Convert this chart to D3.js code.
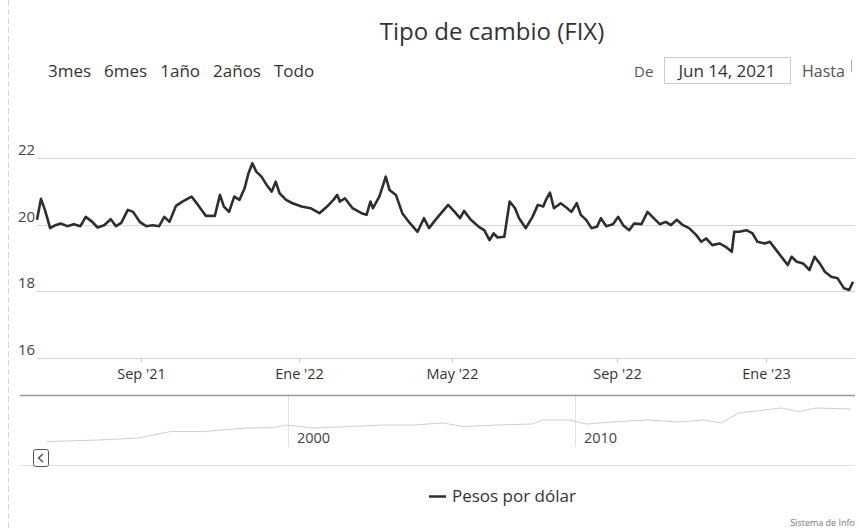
<!DOCTYPE html>
<html>
<head>
<meta charset="utf-8">
<script src="https://cdn.jsdelivr.net/npm/d3@7"></script>
<style>
  html, body { margin: 0; padding: 0; background: #fff; }
  svg { display: block; font-family: "Open Sans", "DejaVu Sans", sans-serif; }
</style>
</head>
<body>
<script>
// Data ////////////////////////////////////////////////////////////////////

const fixDates = [
  "2021-06-14","2021-06-17","2021-06-20","2021-06-24","2021-06-28","2021-07-02","2021-07-07",
  "2021-07-12","2021-07-17","2021-07-21","2021-07-26","2021-07-30","2021-08-04","2021-08-09",
  "2021-08-13","2021-08-17","2021-08-22","2021-08-26","2021-08-31","2021-09-05","2021-09-10",
  "2021-09-15","2021-09-19","2021-09-23","2021-09-28","2021-10-03","2021-10-10","2021-10-15",
  "2021-10-21","2021-10-28","2021-11-01","2021-11-04","2021-11-08","2021-11-12","2021-11-16",
  "2021-11-20","2021-11-23","2021-11-26","2021-11-29","2021-12-03","2021-12-07","2021-12-11",
  "2021-12-14","2021-12-17","2021-12-22","2021-12-27","2022-01-03","2022-01-10","2022-01-17",
  "2022-01-23","2022-01-28","2022-01-31","2022-02-02","2022-02-06","2022-02-12","2022-02-19",
  "2022-02-23","2022-02-26","2022-02-28","2022-03-05","2022-03-08","2022-03-10","2022-03-13",
  "2022-03-18","2022-03-23","2022-03-29","2022-04-04","2022-04-09","2022-04-13","2022-04-18",
  "2022-04-28","2022-05-03","2022-05-07","2022-05-10","2022-05-15","2022-05-21","2022-05-25",
  "2022-05-29","2022-06-01","2022-06-04","2022-06-09","2022-06-13","2022-06-17","2022-06-20",
  "2022-06-25","2022-06-30","2022-07-04","2022-07-08","2022-07-10","2022-07-13","2022-07-16",
  "2022-07-21","2022-07-25","2022-07-29","2022-08-02","2022-08-05","2022-08-09","2022-08-13",
  "2022-08-17","2022-08-20","2022-08-24","2022-08-29","2022-09-02","2022-09-06","2022-09-11",
  "2022-09-15","2022-09-21","2022-09-26","2022-09-30","2022-10-06","2022-10-11","2022-10-15",
  "2022-10-20","2022-10-25","2022-10-30","2022-11-05","2022-11-09","2022-11-13","2022-11-18",
  "2022-11-24","2022-11-29","2022-12-04","2022-12-06","2022-12-10","2022-12-16","2022-12-21",
  "2022-12-25","2022-12-31","2023-01-04","2023-01-09","2023-01-14","2023-01-18","2023-01-21",
  "2023-01-25","2023-01-30","2023-02-04","2023-02-08","2023-02-12","2023-02-16","2023-02-21",
  "2023-02-26","2023-03-03","2023-03-07","2023-03-10"
];

const fixValues = [
  20.14,20.77,20.44,19.89,19.98,20.03,19.95,
  20.01,19.95,20.23,20.08,19.91,19.98,20.16,
  19.95,20.05,20.44,20.38,20.08,19.95,19.98,
  19.95,20.23,20.08,20.56,20.69,20.84,20.59,
  20.26,20.26,20.89,20.54,20.38,20.84,20.74,
  21.09,21.54,21.84,21.59,21.44,21.19,20.99,
  21.29,20.94,20.74,20.64,20.54,20.49,20.34,
  20.54,20.74,20.89,20.69,20.79,20.49,20.34,
  20.29,20.69,20.49,20.84,21.19,21.44,21.04,
  20.89,20.34,20.04,19.78,20.19,19.89,20.14,
  20.59,20.38,20.19,20.41,20.14,19.93,19.83,
  19.53,19.73,19.61,19.63,20.69,20.49,20.19,
  19.89,20.23,20.59,20.54,20.74,20.96,20.49,
  20.64,20.52,20.38,20.64,20.29,20.14,19.89,
  19.93,20.19,19.95,20.01,20.23,19.98,19.83,
  20.03,20.01,20.38,20.23,20.01,20.08,19.98,
  20.14,19.98,19.89,19.68,19.48,19.58,19.38,
  19.43,19.33,19.18,19.78,19.78,19.83,19.73,
  19.48,19.43,19.48,19.23,18.98,18.78,19.03,
  18.88,18.83,18.63,19.03,18.83,18.58,18.43,
  18.38,18.08,18.03,18.28
];

const yTicks = [16, 18, 20, 22];
const xTickDates = ["2021-09-01", "2022-01-01", "2022-05-01", "2022-09-01", "2023-01-01"];
const monthsEs = ["Ene","Feb","Mar","Abr","May","Jun","Jul","Ago","Sep","Oct","Nov","Dic"];
const rangeButtons = ["3mes", "6mes", "1año", "2años", "Todo"];

// navigator: whole history, decimal year and value
const navYears = [1991.6,1993.4,1994.8,1995.3,1995.9,1997.0,1998.6,1999.5,1999.9,2000.9,
  2002.1,2003.3,2004.4,2005.4,2006.1,2007.3,2008.5,2008.9,2009.8,2010.4,2011.5,2012.5,
  2013.6,2014.5,2015.1,2015.7,2016.6,2017.2,2017.8,2018.4,2019.6];
const navValues = [2.7,3.5,4.5,6.0,7.7,7.7,9.5,9.7,11.0,9.5,
  10.2,11.0,11.0,12.0,10.2,11.0,11.5,13.5,13.5,11.5,12.7,13.5,
  12.5,13.5,12.0,17.0,18.5,19.5,17.7,19.5,19.0];
const navTicks = [2000, 2010];

// Layout //////////////////////////////////////////////////////////////////

const width = 860;
const height = 531;
const plotLeft = 37;
const plotRight = 855;
const parseDate = d3.timeParse("%Y-%m-%d");

const svg = d3
  .select("body")
  .append("svg")
  .attr("width", width)
  .attr("height", height);

// ordinal-like time axis (business days), approximated piecewise
const xScale = d3
  .scaleTime()
  .domain(["2021-06-14", ...xTickDates, "2023-03-10"].map(parseDate))
  .range([plotLeft, 141, 299, 452, 617, 766, 853]);

const yScale = d3.scaleLinear().domain([16, 22]).range([357.5, 158]);

drawFrame(svg);
drawTitle(svg);
drawRangeSelector(svg);
drawGrid(svg);
drawSeries(svg);
drawXAxis(svg);
drawNavigator(svg);
drawLegend(svg);

// Frame ///////////////////////////////////////////////////////////////////

function drawFrame(root) {
  root
    .append("line")
    .attr("x1", 8.5)
    .attr("x2", 8.5)
    .attr("y1", 0)
    .attr("y2", height)
    .attr("stroke", "#d8d8d8")
    .attr("stroke-dasharray", "6 3");
}

function drawTitle(root) {
  root
    .append("text")
    .text("Tipo de cambio (FIX)")
    .attr("x", 492)
    .attr("y", 40)
    .attr("text-anchor", "middle")
    .attr("font-size", 24)
    .attr("fill", "#333");
}

function drawRangeSelector(root) {
  const g = root.append("g").attr("font-size", 17).attr("fill", "#333");
  let x = 48;
  rangeButtons.forEach((label) => {
    const t = g.append("text").text(label).attr("x", x).attr("y", 77);
    x += t.node().getComputedTextLength() + 13;
  });

  g.append("text")
    .text("De")
    .attr("x", 634)
    .attr("y", 77)
    .attr("font-size", 15)
    .attr("fill", "#555");
  g.append("rect")
    .attr("x", 664.5)
    .attr("y", 57.5)
    .attr("width", 126)
    .attr("height", 26)
    .attr("fill", "none")
    .attr("stroke", "#ccc");
  g.append("text")
    .text("Jun 14, 2021")
    .attr("x", 727)
    .attr("y", 77)
    .attr("text-anchor", "middle")
    .attr("font-size", 17);
  g.append("text")
    .text("Hasta")
    .attr("x", 802)
    .attr("y", 77)
    .attr("font-size", 16)
    .attr("fill", "#555");
  g.append("line")
    .attr("x1", 851.5)
    .attr("x2", 851.5)
    .attr("y1", 60)
    .attr("y2", 72)
    .attr("stroke", "#aaa");
}

// Main plot ///////////////////////////////////////////////////////////////

function drawGrid(root) {
  const g = root.append("g");
  g.selectAll("line")
    .data(yTicks)
    .join("line")
    .attr("x1", plotLeft)
    .attr("x2", plotRight)
    .attr("y1", (d) => Math.round(yScale(d)) + 0.5)
    .attr("y2", (d) => Math.round(yScale(d)) + 0.5)
    .attr("stroke", "#d6d6d6");

  g.selectAll("text")
    .data(yTicks)
    .join("text")
    .text((d) => d)
    .attr("x", 18)
    .attr("y", (d) => yScale(d) - 3)
    .attr("font-size", 15)
    .attr("fill", "#444");
}

function drawSeries(root) {
  const points = fixDates.map((d, i) => [parseDate(d), fixValues[i]]);
  const line = d3
    .line()
    .x((d) => xScale(d[0]))
    .y((d) => yScale(d[1]));

  root
    .append("path")
    .datum(points)
    .attr("d", line)
    .attr("fill", "none")
    .attr("stroke", "#2e2e2e")
    .attr("stroke-width", 2.6)
    .attr("stroke-linejoin", "round");
}

function drawXAxis(root) {
  const fmt = (d) => `${monthsEs[d.getMonth()]} '${String(d.getFullYear()).slice(2)}`;
  const axis = d3
    .axisBottom(xScale)
    .tickValues(xTickDates.map(parseDate))
    .tickFormat(fmt)
    .tickSize(4)
    .tickPadding(6);

  const g = root
    .append("g")
    .attr("transform", `translate(0, ${Math.round(yScale(16)) + 0.5})`)
    .call(axis);
  g.select(".domain").remove();
  g.selectAll(".tick line").attr("stroke", "#ccc");
  g.selectAll(".tick text")
    .attr("font-size", 14.5)
    .attr("font-family", "Open Sans, DejaVu Sans, sans-serif")
    .attr("fill", "#333");
}

// Navigator ///////////////////////////////////////////////////////////////

function drawNavigator(root) {
  const navX = d3.scaleLinear().domain([2000, 2010]).range([288, 575]);
  const navY = d3.scaleLinear().domain([0, 25]).range([447, 397]);
  const g = root.append("g");

  g.selectAll("line.grid")
    .data(navTicks)
    .join("line")
    .attr("class", "grid")
    .attr("x1", (d) => Math.round(navX(d)) + 0.5)
    .attr("x2", (d) => Math.round(navX(d)) + 0.5)
    .attr("y1", 395)
    .attr("y2", 447)
    .attr("stroke", "#e4e4e4");

  g.append("path")
    .datum(navYears.map((d, i) => [d, navValues[i]]))
    .attr(
      "d",
      d3
        .line()
        .x((d) => navX(d[0]))
        .y((d) => navY(d[1]))
    )
    .attr("fill", "none")
    .attr("stroke", "#cfcfcf")
    .attr("stroke-width", 1);

  g.append("line")
    .attr("x1", 20)
    .attr("x2", plotRight)
    .attr("y1", 395.5)
    .attr("y2", 395.5)
    .attr("stroke", "#999")
    .attr("stroke-width", 1.5);

  g.selectAll("text")
    .data(navTicks)
    .join("text")
    .text((d) => d)
    .attr("x", (d) => navX(d) + 9)
    .attr("y", 443)
    .attr("font-size", 14.5)
    .attr("fill", "#444");

  // scrollbar
  g.append("line")
    .attr("x1", 20)
    .attr("x2", plotRight)
    .attr("y1", 465.5)
    .attr("y2", 465.5)
    .attr("stroke", "#e2e2e2");
  g.append("rect")
    .attr("x", 33.5)
    .attr("y", 449.5)
    .attr("width", 15)
    .attr("height", 17)
    .attr("rx", 2)
    .attr("fill", "#fff")
    .attr("stroke", "#555");
  g.append("path")
    .attr("d", "M43,454 L38.5,458 L43,462")
    .attr("fill", "none")
    .attr("stroke", "#444")
    .attr("stroke-width", 1.3);
}

// Legend //////////////////////////////////////////////////////////////////

function drawLegend(root) {
  const g = root.append("g");
  g.append("line")
    .attr("x1", 429)
    .attr("x2", 446)
    .attr("y1", 496.5)
    .attr("y2", 496.5)
    .attr("stroke", "#2e2e2e")
    .attr("stroke-width", 2.5);
  g.append("text")
    .text("Pesos por dólar")
    .attr("x", 452)
    .attr("y", 502)
    .attr("font-size", 17)
    .attr("fill", "#333");

  root
    .append("text")
    .text("Sistema de Info")
    .attr("x", 855)
    .attr("y", 526)
    .attr("text-anchor", "end")
    .attr("font-size", 9)
    .attr("fill", "#777");
}
</script>
</body>
</html>
